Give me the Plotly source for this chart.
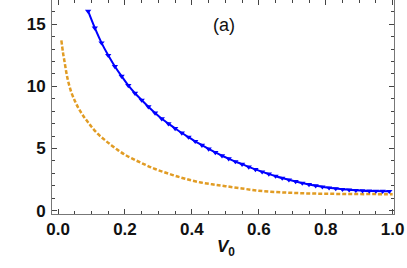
import plotly.graph_objects as go

blue_v = [0.09, 0.11, 0.13, 0.15, 0.17, 0.19, 0.21, 0.23, 0.25, 0.27, 0.29, 0.31, 0.33, 0.35,
          0.37, 0.39, 0.41, 0.43, 0.45, 0.47, 0.49, 0.51, 0.53, 0.55, 0.57, 0.59, 0.61, 0.63,
          0.65, 0.67, 0.69, 0.71, 0.73, 0.75, 0.77, 0.79, 0.81, 0.83, 0.85, 0.87, 0.89, 0.91,
          0.93, 0.95, 0.97, 0.99]
blue_y = [16.05, 14.70, 13.50, 12.50, 11.60, 10.82, 10.08, 9.45, 8.90, 8.36, 7.86, 7.40, 7.00, 6.62,
          6.25, 5.92, 5.58, 5.27, 4.97, 4.68, 4.42, 4.18, 3.95, 3.74, 3.52, 3.32, 3.12, 2.95,
          2.78, 2.62, 2.48, 2.35, 2.22, 2.11, 2.01, 1.92, 1.84, 1.78, 1.72, 1.68, 1.64, 1.61,
          1.59, 1.58, 1.57, 1.56]

orange_v = [0.01, 0.015, 0.02, 0.025, 0.03, 0.04, 0.05, 0.06, 0.07, 0.08, 0.09, 0.10, 0.12, 0.14,
            0.16, 0.18, 0.20, 0.23, 0.26, 0.29, 0.32, 0.35, 0.38, 0.42, 0.46, 0.50, 0.55, 0.60,
            0.65, 0.70, 0.75, 0.80, 0.85, 0.90, 0.95, 1.0]
orange_y = [13.7, 12.7, 11.9, 11.1, 10.45, 9.5, 8.85, 8.3, 7.85, 7.45, 7.1, 6.75, 6.15, 5.68,
            5.25, 4.85, 4.5, 4.08, 3.7, 3.35, 3.07, 2.8, 2.57, 2.3, 2.12, 1.97, 1.78, 1.6,
            1.5, 1.43, 1.38, 1.36, 1.34, 1.33, 1.33, 1.32]

x_ticks = [0.0, 0.2, 0.4, 0.6, 0.8, 1.0]
y_ticks = [0, 5, 10, 15]

fig = go.Figure()
fig.add_trace(go.Scatter(x=orange_v, y=orange_y, mode="lines",
                         line=dict(color="#E19C24", width=2.5, dash="4px,2px", shape="spline"),
                         showlegend=False))
fig.add_trace(go.Scatter(x=blue_v, y=blue_y, mode="lines+markers",
                         line=dict(color="#0000FF", width=2, shape="spline"),
                         marker=dict(symbol="triangle-down", size=5.5, color="#0000FF"),
                         showlegend=False))

axis_common = dict(showline=True, linecolor="#777", linewidth=1, mirror="ticks",
                   ticks="inside", ticklen=5, tickcolor="#444", tickwidth=1,
                   showgrid=False, zeroline=False, ticklabeloverflow="allow",
                   tickfont=dict(family="Liberation Sans", size=17, color="#111"))

fig.update_xaxes(range=[-0.018, 1.004], tickvals=x_ticks, ticktext=[f"<b>{v:.1f}</b>" for v in x_ticks],
                 minor=dict(ticks="inside", ticklen=3, dtick=0.05, tickcolor="#444"),
                 **axis_common)
fig.update_yaxes(range=[-0.27, 16.95], tickvals=y_ticks, ticktext=[f"<b>{v}</b>" for v in y_ticks],
                 minor=dict(ticks="inside", ticklen=3, dtick=1, tickcolor="#444"),
                 ticklabelstandoff=2,
                 **axis_common)

fig.add_annotation(text="<b><i>V</i><sub>0</sub></b>", xref="paper", yref="paper", x=0.51, y=-0.16,
                   xanchor="center", yanchor="middle", showarrow=False,
                   font=dict(family="Liberation Sans", size=17, color="#111"))
fig.add_annotation(text="(a)", xref="paper", yref="paper", x=0.503, y=0.883, showarrow=False,
                   xanchor="center", yanchor="middle",
                   font=dict(family="Liberation Sans", size=18, color="#111"))

fig.update_layout(width=407, height=268, margin=dict(l=52, r=13, t=0, b=54),
                  plot_bgcolor="white", paper_bgcolor="white")
fig.write_html("out.html", config={"displayModeBar": False},
               post_script="document.body.style.margin='0';")
